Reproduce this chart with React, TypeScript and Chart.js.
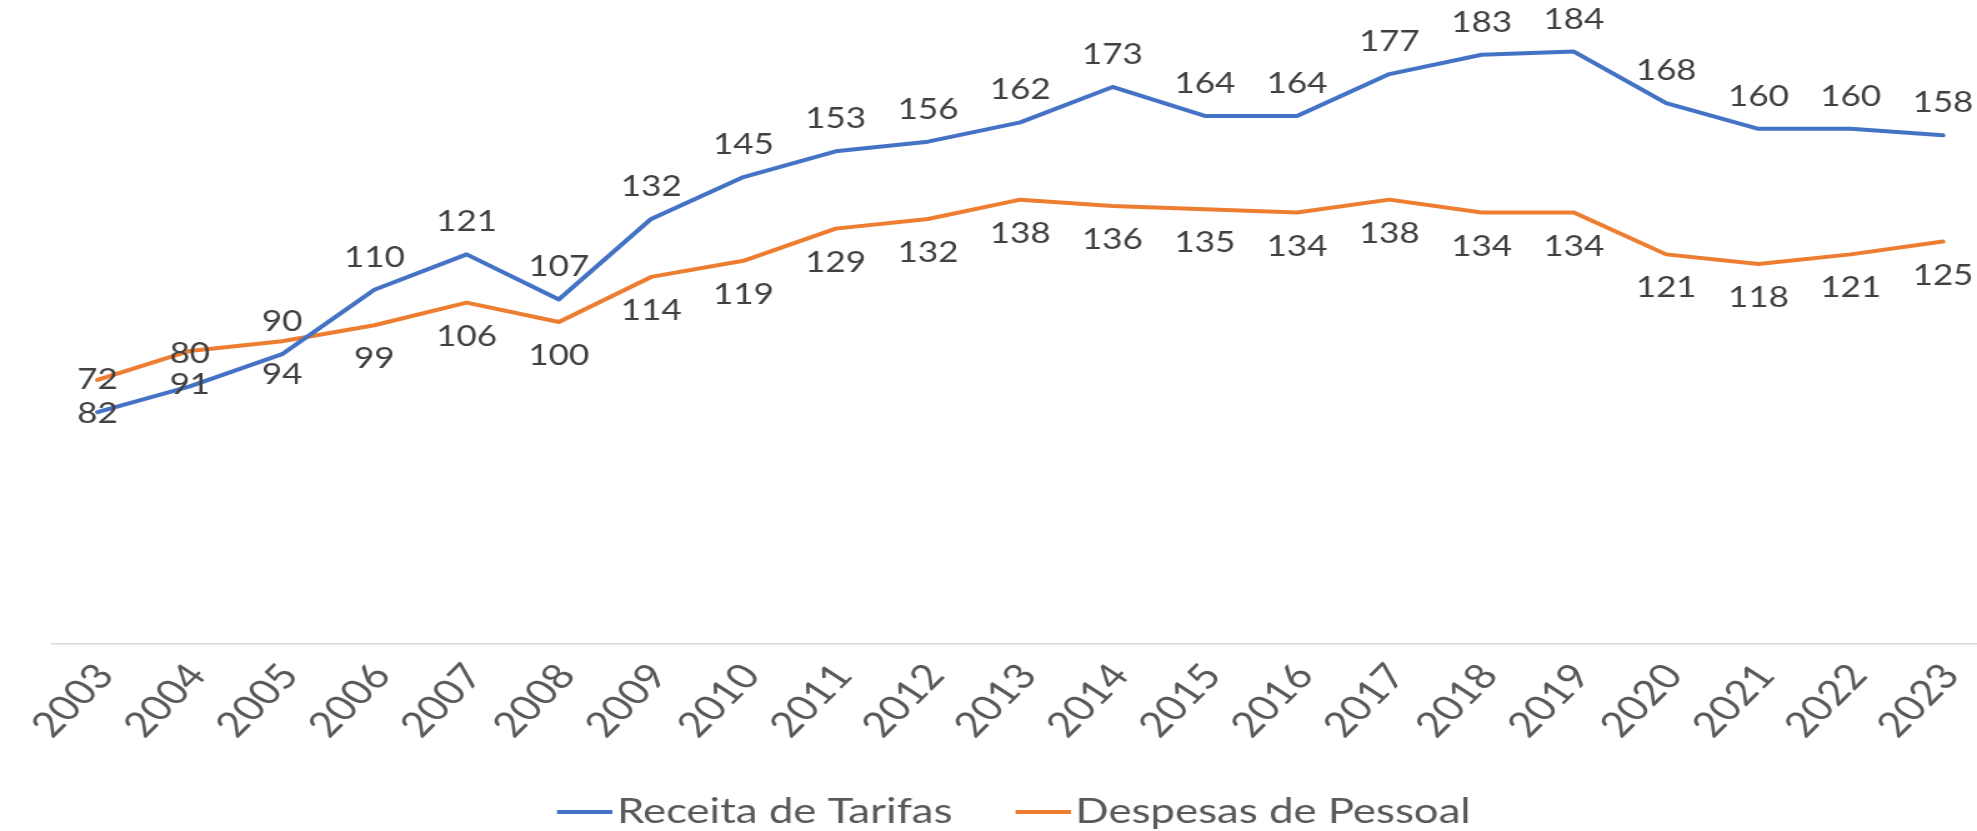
import React, { useEffect, useRef } from "react";
import { Chart, registerables } from "chart.js";

Chart.register(...registerables);

// ---- data ----
const years = [
  "2003", "2004", "2005", "2006", "2007", "2008", "2009", "2010", "2011", "2012", "2013",
  "2014", "2015", "2016", "2017", "2018", "2019", "2020", "2021", "2022", "2023",
];
const receitaTarifas = [72, 80, 90, 110, 121, 107, 132, 145, 153, 156, 162, 173, 164, 164, 177, 183, 184, 168, 160, 160, 158];
const despesasPessoal = [82, 91, 94, 99, 106, 100, 114, 119, 129, 132, 138, 136, 135, 134, 138, 134, 134, 121, 118, 121, 125];
const seriesNames = ["Receita de Tarifas", "Despesas de Pessoal"];
const seriesColors = ["#4472C4", "#ED7D31"];
const yMin = 0;
const yMax = 200;

// ---- layout ----
const CANVAS_W = 1582;
const CANVAS_H = 840;
const STRETCH = 1977 / CANVAS_W;
const FONT = "Lato, 'Liberation Sans', sans-serif";
const LEGEND_FONT = 35;
const LEGEND_PAD = 52;

const dataLabelPlugin = {
  id: "dataLabels",
  afterDatasetsDraw(chart: any) {
    const ctx = chart.ctx;
    ctx.save();
    ctx.font = `28px ${FONT}`;
    ctx.fillStyle = "#404040";
    ctx.textAlign = "center";
    ctx.textBaseline = "middle";
    chart.data.datasets.forEach((ds: any, di: number) => {
      const meta = chart.getDatasetMeta(di);
      const dir = di === 0 ? -1 : 1;
      meta.data.forEach((pt: any, i: number) => {
        const v = ds.data[i].y;
        ctx.fillText(String(v), pt.x, pt.y + dir * (di === 0 ? 32 : 34));
      });
    });
    ctx.restore();
  },
};

// legend swatch: a 44px line drawn in the right part of a 56px image
function makeLegendLine(color: string) {
  const c = document.createElement("canvas");
  c.width = 56;
  c.height = 4;
  const g = c.getContext("2d");
  if (g) {
    g.fillStyle = color;
    g.fillRect(12, 0, 44, 4);
  }
  return c;
}

export default function App() {
  const canvasRef = useRef<HTMLCanvasElement | null>(null);

  useEffect(() => {
    if (!canvasRef.current) return;
    const series = [receitaTarifas, despesasPessoal];
    const chart = new Chart(canvasRef.current, {
      type: "line",
      data: {
        datasets: series.map((vals, si) => ({
          label: seriesNames[si],
          data: vals.map((v, i) => ({ x: i, y: v })),
          borderColor: seriesColors[si],
          backgroundColor: seriesColors[si],
          borderWidth: 4,
          pointRadius: 0,
          pointStyle: makeLegendLine(seriesColors[si]),
          tension: 0,
          borderJoinStyle: "round" as const,
          borderCapStyle: "round" as const,
          fill: false,
        })),
      },
      options: {
        animation: false,
        responsive: false,
        devicePixelRatio: 1,
        layout: { padding: { top: 0, left: 42, right: 0, bottom: 1 } },
        scales: {
          x: {
            type: "linear",
            min: -0.488,
            max: 20.369,
            grid: { display: false, drawTicks: false },
            border: { display: true, color: "#d9d9d9", width: 1.5 },
            afterBuildTicks: (scale: any) => {
              scale.ticks = years.map((_, i) => ({ value: i }));
            },
            afterFit: (scale: any) => {
              scale.height = 98;
              scale.paddingLeft = 0;
              scale.paddingRight = 0;
              scale.paddingTop = 0;
              scale.paddingBottom = 0;
            },
            ticks: {
              autoSkip: false,
              minRotation: 51,
              maxRotation: 51,
              padding: 12,
              labelOffset: 6,
              color: "#595959",
              font: { family: FONT, size: 35 },
              callback: (v: any) => years[Math.round(Number(v))] ?? "",
            },
          },
          y: { display: false, min: yMin, max: yMax },
        },
        plugins: {
          legend: {
            position: "bottom",
            labels: {
              usePointStyle: true,
              pointStyleWidth: 29,
              padding: LEGEND_PAD,
              color: "#595959",
              font: { family: FONT, size: LEGEND_FONT },
            },
          },
          tooltip: { enabled: false },
        },
      },
      plugins: [dataLabelPlugin],
    } as any);
    return () => chart.destroy();
  }, []);

  return (
    <div
      style={{
        position: "fixed",
        left: 0,
        top: 0,
        width: 1977,
        height: 831,
        overflow: "hidden",
        background: "#ffffff",
      }}
    >
      <canvas
        ref={canvasRef}
        width={CANVAS_W}
        height={CANVAS_H}
        style={{
          width: CANVAS_W,
          height: CANVAS_H,
          transform: `scaleX(${STRETCH})`,
          transformOrigin: "0 0",
          display: "block",
        }}
      />
    </div>
  );
}
